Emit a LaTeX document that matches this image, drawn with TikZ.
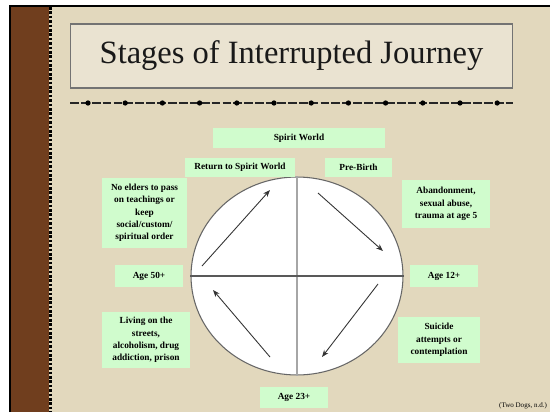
\documentclass[tikz,border=0pt]{standalone}
\usepackage{fontspec}
\setmainfont{Liberation Serif}
\usepackage{tikz}
\usetikzlibrary{arrows.meta,positioning,shapes.geometric}

\definecolor{parchment}{RGB}{226,216,189}
\definecolor{titlefill}{RGB}{234,227,209}
\definecolor{mint}{RGB}{208,252,205}
\definecolor{leather}{RGB}{112,62,30}

\begin{document}
\begin{tikzpicture}[
    x=0.02cm, y=-0.02cm,
    >={Stealth[length=4pt,width=3pt]},
    stage/.style={
        rectangle,
        fill=mint,
        inner sep=1pt,
        align=center,
        font=\fontsize{5.3}{7}\selectfont\bfseries
    },
    cycle/.style={->, line width=0.5pt, draw=black!80},
    axis/.style={line width=0.6pt},
    bead/.style={circle, fill=black, inner sep=0pt, minimum size=3pt}
]
\useasboundingbox (0,0) rectangle (550,412);

% ---------------------------------------------------------------- Page
\fill[white] (0,0) rectangle (550,412);
\fill[parchment] (10,6) rectangle (550,412);
\fill[leather] (11,7) rectangle (49,412);
\draw[black, line width=0.8pt] (10,412) -- (10,6) -- (550,6);
\draw[black, line width=1.2pt, dash pattern=on 1.5pt off 1pt] (50.5,7) -- (50.5,412);

% ---------------------------------------------------------------- Title
\node[draw=black!55, fill=titlefill, line width=0.6pt,
      minimum width=8.86cm, minimum height=1.28cm,
      text=black!90, font=\fontsize{18.5}{22}\selectfont] (title) at (291.5,56) {Stages of Interrupted Journey};

% beaded rule under the title
\draw[black!85, line width=0.7pt, dash pattern=on 5pt off 1.2pt] (70,103) -- (513,103);
\foreach \i in {0,...,11}
    \node[bead] (bead\i) at (88+37.2*\i,103) {};

% ---------------------------------------------------------------- Wheel
\node[ellipse, draw=black!60, fill=white, line width=0.6pt, inner sep=0pt,
      minimum width=4.24cm, minimum height=3.96cm] (wheel) at (297,276) {};
\draw[axis, draw=black!35] (wheel.north) -- (wheel.south);
\draw[axis, draw=black!65] (wheel.west) -- (wheel.east);

% ---------------------------------------------------------------- Stages
\node[stage, minimum width=3.44cm, minimum height=0.40cm] (spirit)  at (299,138)   {Spirit World};
\node[stage, minimum width=2.20cm, minimum height=0.38cm] (return)  at (240,167.5) {Return to Spirit World};
\node[stage, minimum width=1.34cm, minimum height=0.38cm] (prebirth) at (358.5,167.5) {Pre-Birth};
\node[stage, minimum width=1.76cm, minimum height=0.96cm] (abandon) at (446,204)   {Abandonment,\\sexual abuse,\\trauma at age 5};
\node[stage, minimum width=1.36cm, minimum height=0.44cm] (age12)   at (444,276)   {Age 12+};
\node[stage, minimum width=1.64cm, minimum height=0.92cm] (suicide) at (439,340)   {Suicide\\attempts or\\contemplation};
\node[stage, minimum width=1.36cm, minimum height=0.42cm] (age23)   at (294,397.5) {Age 23+};
\node[stage, minimum width=1.76cm, minimum height=1.12cm] (streets) at (146,340)   {Living on the\\streets,\\alcoholism, drug\\addiction, prison};
\node[stage, minimum width=1.36cm, minimum height=0.44cm] (age50)   at (149,276)   {Age 50+};
\node[stage, minimum width=1.70cm, minimum height=1.40cm] (elders)  at (144.5,213) {No elders to pass\\on teachings or\\keep\\social/custom/\\spiritual order};

% ---------------------------------------------------------------- Cycle arrows
\coordinate (ne1) at (318,193); \coordinate (ne2) at (383,251);
\coordinate (se1) at (378,284); \coordinate (se2) at (322,357);
\coordinate (sw1) at (270,357); \coordinate (sw2) at (213,290);
\coordinate (nw1) at (202,266); \coordinate (nw2) at (270,190);
\draw[cycle] (ne1) -- (ne2);
\draw[cycle] (se1) -- (se2);
\draw[cycle] (sw1) -- (sw2);
\draw[cycle] (nw1) -- (nw2);

% ---------------------------------------------------------------- Source
\node[font=\fontsize{4}{5}\selectfont, anchor=east, inner sep=1pt] (source) at (549,406) {(Two Dogs, n.d.)};

\end{tikzpicture}
\end{document}
